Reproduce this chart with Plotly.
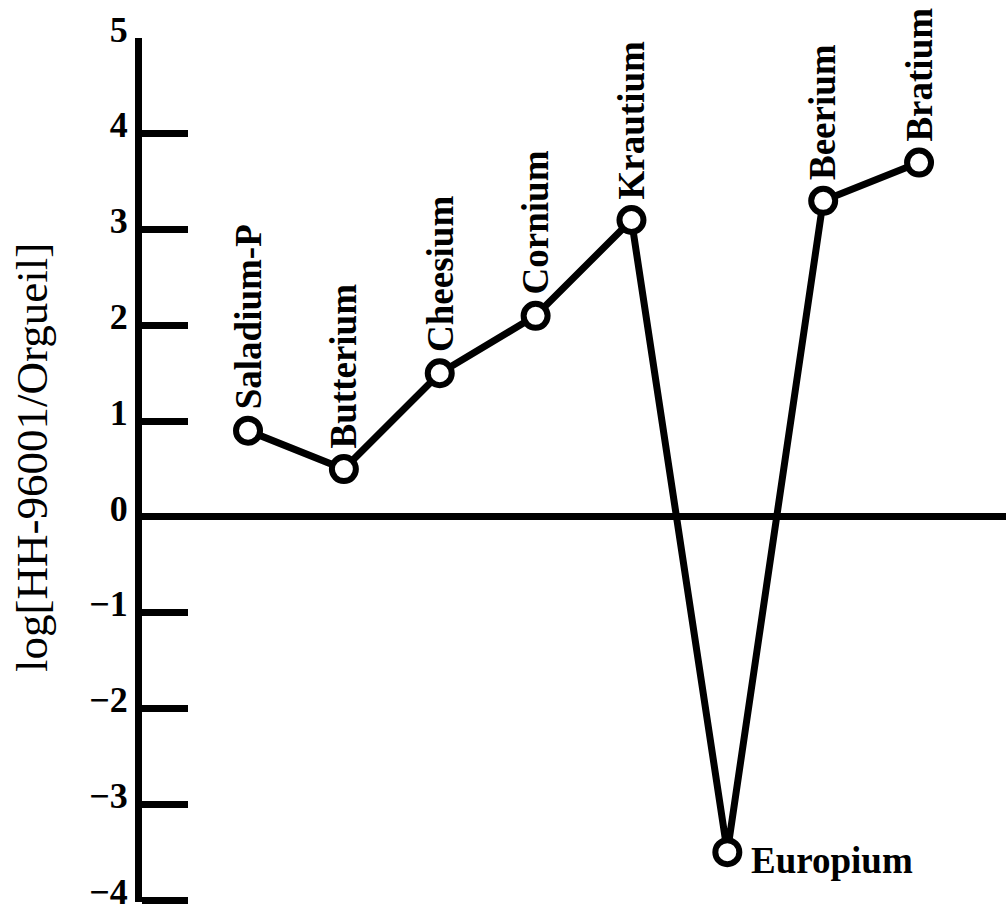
import plotly.graph_objects as go

elements = ["Saladium-P", "Butterium", "Cheesium", "Cornium", "Krautium", "Europium", "Beerium", "Bratium"]
values = [0.9, 0.5, 1.5, 2.1, 3.1, -3.5, 3.3, 3.7]
y_ticks = [-4, -3, -2, -1, 0, 1, 2, 3, 4, 5]
y_title = "log[HH-96001/Orgueil]"

xs = list(range(len(elements)))
label_font = dict(family="Liberation Serif", size=37, color="black", weight="bold")

fig = go.Figure()
fig.add_trace(go.Scatter(
    x=xs, y=values, mode="lines+markers",
    line=dict(color="black", width=7),
    marker=dict(size=24, color="white", line=dict(color="black", width=6)),
    cliponaxis=False, showlegend=False, hoverinfo="skip",
))

for x, name, v in zip(xs, elements, values):
    if v < 0:
        fig.add_annotation(x=x, y=v, text=name, showarrow=False, xanchor="left", yanchor="middle",
                           xshift=22, yshift=-8, font=label_font)
    else:
        fig.add_annotation(x=x, y=v, text=name, showarrow=False, textangle=-90,
                           xanchor="center", yanchor="bottom", yshift=19, font=label_font)

# axis title as a rotated annotation
fig.add_annotation(xref="paper", yref="paper", x=0, y=0.514, xshift=-110, text=y_title,
                   showarrow=False, textangle=-90, xanchor="center", yanchor="middle",
                   font=dict(family="Liberation Serif", size=45, color="black"))

fig.update_layout(
    width=1006, height=911,
    margin=dict(l=142, r=0, t=38, b=9, autoexpand=False),
    plot_bgcolor="white", paper_bgcolor="white",
    xaxis=dict(range=[-1.106, 7.907], visible=False, showgrid=False, zeroline=False, automargin=False),
    yaxis=dict(
        range=[-4.02, 5.0], tickvals=y_ticks, showgrid=False, automargin=False,
        zeroline=True, zerolinewidth=7, zerolinecolor="black",
        showline=True, linewidth=7, linecolor="black",
        ticks="inside", ticklen=46, tickwidth=7, tickcolor="black",
        tickfont=dict(family="Liberation Serif", size=36, color="black", weight="bold"),
        ticklabelshift=-9, ticklabeloverflow="allow",
    ),
)

fig.write_html("out.html", config={"displayModeBar": False},
               post_script="document.body.style.margin='0';")
